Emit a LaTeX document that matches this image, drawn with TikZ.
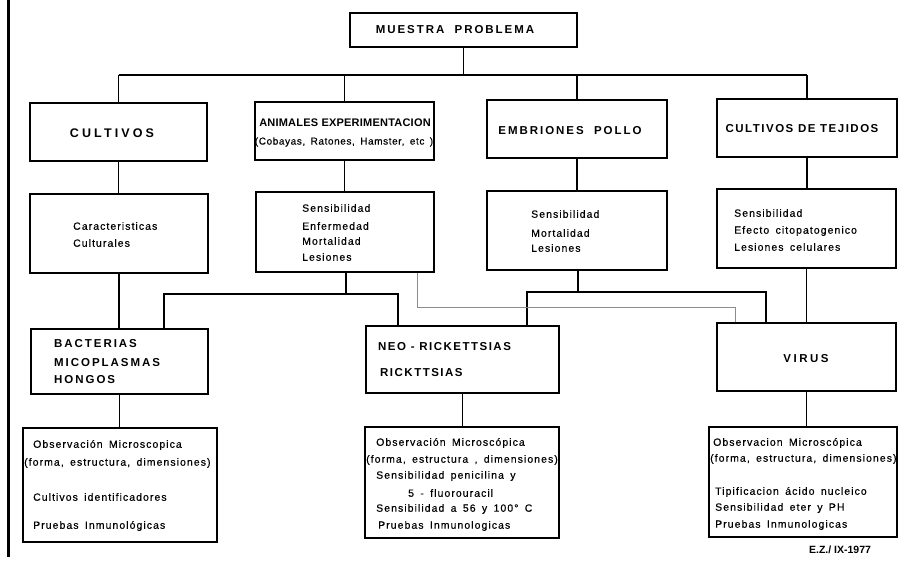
\documentclass[tikz,border=0pt]{standalone}
\usepackage{fontspec}
\setmainfont{Liberation Sans}
\newfontfamily\bodyfont[LetterSpace=10,WordSpace=1.6,FakeBold=0.4]{Liberation Sans}
\usetikzlibrary{fit}
\tikzset{
  box/.style={draw, line width=1.4pt, inner sep=0pt},
  conn/.style={line width=1.1pt},
  ghost/.style={draw=black!45, line width=0.8pt},
  hd/.style={inner sep=0pt, font=\fontsize{11.5}{13}\selectfont\bfseries\addfontfeature{LetterSpace=17}},
  bd/.style={inner sep=0pt, anchor=west, font=\bodyfont\fontsize{10.5}{12}\selectfont},
  hdw/.style={hd, anchor=west}
}
\begin{document}
\begin{tikzpicture}[x=1pt,y=-1pt]
\useasboundingbox (0,0) rectangle (913,561);
% left border
\coordinate (lb1) at (8,0);
\coordinate (lb2) at (8,557);
\draw[line width=3pt] (lb1) -- (lb2);
% boxes
\node[box, fit={(350,13) (577,47)}] (mp) {};
\node[box, fit={(30,103) (207,161)}] (cult) {};
\node[box, fit={(255,102) (434,160)}] (anim) {};
\node[box, fit={(487,100) (667,158)}] (embr) {};
\node[box, fit={(717,99) (897,157)}] (tej) {};
\node[box, fit={(30,194) (208,273)}] (cara) {};
\node[box, fit={(256,192) (434,272)}] (sensA) {};
\node[box, fit={(487,191) (667,270)}] (sensB) {};
\node[box, fit={(717,189) (896,268)}] (sensC) {};
\node[box, fit={(31,329) (208,394)}] (bact) {};
\node[box, fit={(366,326) (559,393)}] (neo) {};
\node[box, fit={(717,323) (896,391)}] (virus) {};
\node[box, fit={(23,428) (217,542)}] (obsA) {};
\node[box, fit={(365,427) (559,538)}] (obsB) {};
\node[box, fit={(709,427) (897,537)}] (obsC) {};
% connectors
\coordinate (bus) at (0,75);
\draw[conn] (mp.south) -- (mp.south |- bus);
\draw[conn] (cult.north |- bus) -- (tej.north |- bus);
\draw[conn] (cult.north |- bus) -- (cult.north);
\draw[conn] (anim.north |- bus) -- (anim.north);
\draw[conn] (embr.north |- bus) -- (embr.north);
\draw[conn] (tej.north |- bus) -- (tej.north);
\draw[conn] (cult.south) -- (cult.south |- cara.north);
\draw[conn] (anim.south) -- (anim.south |- sensA.north);
\draw[conn] (embr.south) -- (embr.south |- sensB.north);
\draw[conn] (tej.south) -- (tej.south |- sensC.north);
\draw[conn] (cara.south) -- (cara.south |- bact.north);
\coordinate (b1) at (164,294);
\coordinate (n1) at (398,294);
\coordinate (a1) at (346,294);
\draw[conn] (a1 |- sensA.south) -- (a1);
\draw[conn] (b1 |- bact.north) -- (b1) -- (n1) -- (n1 |- neo.north);
\coordinate (n2) at (527,292);
\coordinate (v2) at (766,292);
\coordinate (e2) at (578,292);
\draw[conn] (e2 |- sensB.south) -- (e2);
\draw[conn] (n2 |- neo.north) -- (n2) -- (v2) -- (v2 |- virus.north);
\draw[conn] (sensC.south) -- (sensC.south |- virus.north);
\coordinate (g1) at (417,307);
\coordinate (g2) at (735,307);
\draw[ghost] (g1 |- sensA.south) -- (g1) -- (g2) -- (g2 |- virus.north);
\draw[conn] (bact.south) -- (bact.south |- obsA.north);
\draw[conn] (neo.south) -- (neo.south |- obsB.north);
\draw[conn] (virus.south) -- (virus.south |- obsC.north);
% texts
\node[hd] (tmp) at (455,30) {MUESTRA\ \ PROBLEMA};
\node[hd, font=\fontsize{12.5}{14}\selectfont\bfseries\addfontfeature{LetterSpace=25}] (tcult) at (112,133) {CULTIVOS};
\node[inner sep=0pt, font=\fontsize{11}{12}\selectfont\bfseries\addfontfeature{LetterSpace=2}] (tanim) at (345,123) {ANIMALES EXPERIMENTACION};
\node[inner sep=0pt, font=\bodyfont\fontsize{10}{11}\selectfont\addfontfeature{LetterSpace=6}] (tanim2) at (344,142) {(Cobayas, Ratones, Hamster, etc )};
\node[hd] (tembr) at (570,131) {EMBRIONES\ \ POLLO};
\node[hd, font=\fontsize{11.5}{13}\selectfont\bfseries\addfontfeature{LetterSpace=13}] (ttej) at (802,129) {CULTIVOS DE TEJIDOS};
\node[bd] (c1) at (73,226) {Caracteristicas};
\node[bd] (c2) at (73,243) {Culturales};
\node[bd] (s11) at (302,208) {Sensibilidad};
\node[bd] (s12) at (302,226) {Enfermedad};
\node[bd] (s13) at (302,241) {Mortalidad};
\node[bd] (s14) at (302,257) {Lesiones};
\node[bd] (s21) at (531,214) {Sensibilidad};
\node[bd] (s22) at (531,233) {Mortalidad};
\node[bd] (s23) at (531,248) {Lesiones};
\node[bd] (s31) at (734,213) {Sensibilidad};
\node[bd] (s32) at (734,231) {Efecto citopatogenico};
\node[bd] (s33) at (734,247) {Lesiones celulares};
\node[hdw] (tb1) at (54,344) {BACTERIAS};
\node[hdw] (tb2) at (54,363) {MICOPLASMAS};
\node[hdw] (tb3) at (54,380) {HONGOS};
\node[hdw, font=\fontsize{11.5}{13}\selectfont\bfseries\addfontfeature{LetterSpace=13}] (tn1) at (378,347) {NEO - RICKETTSIAS};
\node[hdw, font=\fontsize{11.5}{13}\selectfont\bfseries\addfontfeature{LetterSpace=13}] (tn2) at (380,373) {RICKTTSIAS};
\node[hd, font=\fontsize{11.5}{13}\selectfont\bfseries\addfontfeature{LetterSpace=22}] (tv) at (806,359) {VIRUS};
\node[bd] (o11) at (33,445) {Observación Microscopica};
\node[bd] (o12) at (24,463) {(forma, estructura, dimensiones)};
\node[bd] (o13) at (33,497) {Cultivos identificadores};
\node[bd] (o14) at (33,526) {Pruebas Inmunológicas};
\node[bd] (o21) at (376,443) {Observación Microscópica};
\node[bd] (o22) at (366,460) {(forma, estructura , dimensiones)};
\node[bd] (o23) at (376,476) {Sensibilidad penicilina y};
\node[bd] (o24) at (408,493) {5 - fluorouracil};
\node[bd] (o25) at (376,509) {Sensibilidad a 56 y 100° C};
\node[bd] (o26) at (378,526) {Pruebas Inmunologicas};
\node[bd] (o31) at (713,443) {Observacion Microscópica};
\node[bd] (o32) at (710,459) {(forma, estructura, dimensiones)};
\node[bd] (o33) at (715,492) {Tipificacion ácido nucleico};
\node[bd] (o34) at (715,508) {Sensibilidad eter y PH};
\node[bd] (o35) at (715,525) {Pruebas Inmunologicas};
\node[inner sep=0pt, font=\fontsize{10.5}{12}\selectfont\bfseries] (tez) at (840,550) {E.Z./ IX-1977};
\end{tikzpicture}
\end{document}
